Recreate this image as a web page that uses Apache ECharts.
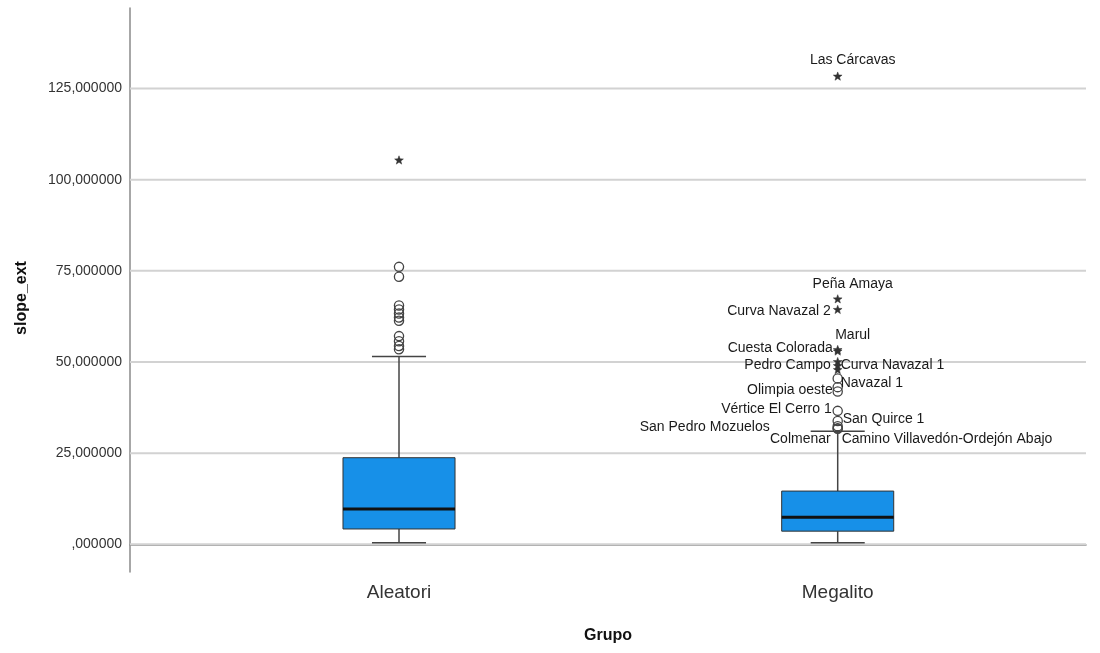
<!DOCTYPE html>
<html>
<head>
<meta charset="utf-8">
<script src="https://cdn.jsdelivr.net/npm/echarts@6/dist/echarts.min.js"></script>
<style>
  html, body { margin: 0; padding: 0; background: #ffffff; }
  #chart { width: 1100px; height: 653px; }
</style>
</head>
<body>
<div id="chart"></div>
<script>
// ---- data ----
const categories = ['Aleatori', 'Megalito'];
const yTicks = [0, 25, 50, 75, 100, 125];

// box summaries: [whisker low, Q1, median, Q3, whisker high]
const aleatoriBox = [0.4, 4.2, 9.7, 23.75, 51.5];
const megalitoBox = [0.4, 3.6, 7.4, 14.6, 31.0];

// Aleatori: outliers (circles) and extremes (stars), unlabeled
const aleatoriOutliers = [53.5, 54.4, 55.7, 57.1, 61.3, 62.2, 63.3, 64.4, 65.5, 73.4, 76.1];
const aleatoriExtremes = [105.3];

// Megalito: labeled outliers (circles)
const megalitoOutlierNames = ['', 'Navazal 1', 'Olimpia oeste', 'Vértice El Cerro 1', 'San Quirce 1',
  'San Pedro Mozuelos', 'Colmenar', 'Camino Villavedón-Ordejón Abajo'];
const megalitoOutlierValues = [45.5, 43.1, 41.9, 36.6, 33.8, 32.4, 31.8, 31.7];

// Megalito: labeled extremes (stars)
const megalitoExtremeNames = ['Las Cárcavas', 'Peña Amaya', 'Curva Navazal 2', 'Cuesta Colorada', 'Marul',
  'Pedro Campo', 'Curva Navazal 1', ''];
const megalitoExtremeValues = [128.3, 67.2, 64.3, 53.3, 52.9, 50.0, 48.9, 47.8];

// ---- styling / layout ----
const X_MIN = 0.3868, X_MAX = 2.566;
const Y_MIN = -7.6, Y_MAX = 147.1;
const BOX_HALF = 0.1277;
const CAP_HALF = 0.0616;
const FONT = '"Liberation Sans", Arial, sans-serif';

// label placement relative to the marker: [dx, dy, align]
const labelPlacement = {
  'Las Cárcavas': [15, -16, 'center'],
  'Peña Amaya': [15, -15, 'center'],
  'Curva Navazal 2': [-7, 1.5, 'right'],
  'Cuesta Colorada': [-5, -2, 'right'],
  'Marul': [15, -16, 'center'],
  'Pedro Campo': [-7, 3, 'right'],
  'Curva Navazal 1': [3, -1, 'left'],
  'Navazal 1': [3, -4, 'left'],
  'Olimpia oeste': [-5, -1, 'right'],
  'Vértice El Cerro 1': [-6, -2, 'right'],
  'San Quirce 1': [5, -2, 'left'],
  'San Pedro Mozuelos': [-68, 1, 'right'],
  'Colmenar': [-7, 11, 'right'],
  'Camino Villavedón-Ordejón Abajo': [4, 10.5, 'left']
};

function starPoints(cx, cy, R, r) {
  const pts = [];
  for (let i = 0; i < 10; i++) {
    const ang = -Math.PI / 2 + i * Math.PI / 5;
    const rad = i % 2 === 0 ? R : r;
    pts.push([cx + rad * Math.cos(ang), cy + rad * Math.sin(ang)]);
  }
  return pts;
}

// build point lists
const circlePoints = [];
const starPointsList = [];
aleatoriOutliers.forEach(v => circlePoints.push({ x: 1, v: v, name: '' }));
aleatoriExtremes.forEach(v => starPointsList.push({ x: 1, v: v, name: '' }));
megalitoOutlierValues.forEach((v, i) => circlePoints.push({ x: 2, v: v, name: megalitoOutlierNames[i] }));
megalitoExtremeValues.forEach((v, i) => starPointsList.push({ x: 2, v: v, name: megalitoExtremeNames[i] }));

function labelElement(name, pt) {
  if (!name) return null;
  const p = labelPlacement[name] || [4, 0, 'left'];
  return {
    type: 'text',
    x: pt[0] + p[0],
    y: pt[1] + p[1],
    style: {
      text: name,
      font: '14px ' + FONT,
      fill: '#1a1a1a',
      align: p[2],
      verticalAlign: 'middle'
    }
  };
}

const chart = echarts.init(document.getElementById('chart'), null, { renderer: 'canvas' });

const option = {
  animation: false,
  backgroundColor: '#ffffff',
  grid: { left: 130, right: 14, top: 8, bottom: 81, containLabel: false },
  xAxis: {
    type: 'value',
    min: X_MIN,
    max: X_MAX,
    axisLine: { show: true, lineStyle: { color: '#8a8a8a', width: 1.5 } },
    axisTick: { show: false },
    splitLine: { show: false },
    axisLabel: {
      customValues: [1, 2],
      formatter: v => categories[Math.round(v) - 1] || '',
      fontFamily: FONT,
      fontSize: 19,
      color: '#333333',
      margin: 11
    }
  },
  yAxis: {
    type: 'value',
    min: Y_MIN,
    max: Y_MAX,
    axisLine: { show: true, lineStyle: { color: '#8a8a8a', width: 1.5 } },
    axisTick: { show: false },
    splitLine: { show: false },
    axisLabel: {
      customValues: yTicks,
      formatter: v => (v === 0 ? '' : String(v)) + ',000000',
      fontFamily: FONT,
      fontSize: 14,
      color: '#333333',
      margin: 8
    }
  },
  graphic: [
    {
      type: 'text',
      x: 22, y: 298,
      rotation: Math.PI / 2,
      style: { text: 'slope_ext', font: 'bold 16px ' + FONT, fill: '#111', align: 'center', verticalAlign: 'middle' }
    },
    {
      type: 'text',
      x: 608, y: 636,
      style: { text: 'Grupo', font: 'bold 16px ' + FONT, fill: '#111', align: 'center', verticalAlign: 'middle' }
    }
  ],
  series: [
    {
      // horizontal reference lines at the tick values
      type: 'custom',
      z: 1,
      silent: true,
      data: yTicks.map(v => [X_MIN, v, X_MAX]),
      encode: { x: [0, 2], y: 1 },
      renderItem: (params, api) => {
        const a = api.coord([api.value(0), api.value(1)]);
        const b = api.coord([api.value(2), api.value(1)]);
        return {
          type: 'line',
          shape: { x1: a[0], y1: a[1], x2: b[0], y2: b[1] },
          style: { stroke: '#d2d2d2', lineWidth: 2 }
        };
      }
    },
    {
      // boxes with whiskers
      type: 'custom',
      z: 3,
      silent: true,
      data: [[1].concat(aleatoriBox), [2].concat(megalitoBox)],
      encode: { x: 0, y: [1, 2, 3, 4, 5] },
      renderItem: (params, api) => {
        const x = api.value(0);
        const lo = api.coord([x, api.value(1)]);
        const q1 = api.coord([x, api.value(2)]);
        const med = api.coord([x, api.value(3)]);
        const q3 = api.coord([x, api.value(4)]);
        const hi = api.coord([x, api.value(5)]);
        const left = api.coord([x - BOX_HALF, 0])[0];
        const right = api.coord([x + BOX_HALF, 0])[0];
        const capL = api.coord([x - CAP_HALF, 0])[0];
        const capR = api.coord([x + CAP_HALF, 0])[0];
        const cx = lo[0];
        const wStyle = { stroke: '#444444', lineWidth: 1.5 };
        return {
          type: 'group',
          children: [
            { type: 'line', shape: { x1: cx, y1: lo[1], x2: cx, y2: q1[1] }, style: wStyle },
            { type: 'line', shape: { x1: cx, y1: q3[1], x2: cx, y2: hi[1] }, style: wStyle },
            { type: 'line', shape: { x1: capL, y1: lo[1], x2: capR, y2: lo[1] }, style: wStyle },
            { type: 'line', shape: { x1: capL, y1: hi[1], x2: capR, y2: hi[1] }, style: wStyle },
            {
              type: 'rect',
              shape: { x: left, y: q3[1], width: right - left, height: q1[1] - q3[1] },
              style: { fill: '#1790e8', stroke: '#333333', lineWidth: 1 }
            },
            { type: 'line', shape: { x1: left, y1: med[1], x2: right, y2: med[1] }, style: { stroke: '#111111', lineWidth: 3 } }
          ]
        };
      }
    },
    {
      // outliers: hollow circles
      type: 'custom',
      z: 4,
      silent: true,
      data: circlePoints.map(p => [p.x, p.v]),
      encode: { x: 0, y: 1 },
      renderItem: (params, api) => {
        const pt = api.coord([api.value(0), api.value(1)]);
        const children = [{
          type: 'circle',
          shape: { cx: pt[0], cy: pt[1], r: 4.6 },
          style: { fill: 'none', stroke: '#444444', lineWidth: 1.3 }
        }];
        const lab = labelElement(circlePoints[params.dataIndex].name, pt);
        if (lab) children.push(lab);
        return { type: 'group', children: children };
      }
    },
    {
      // extremes: stars
      type: 'custom',
      z: 4,
      silent: true,
      data: starPointsList.map(p => [p.x, p.v]),
      encode: { x: 0, y: 1 },
      renderItem: (params, api) => {
        const pt = api.coord([api.value(0), api.value(1)]);
        const children = [{
          type: 'polygon',
          shape: { points: starPoints(pt[0], pt[1], 4.6, 1.9) },
          style: { fill: '#333333', stroke: '#333333', lineWidth: 0.5 }
        }];
        const lab = labelElement(starPointsList[params.dataIndex].name, pt);
        if (lab) children.push(lab);
        return { type: 'group', children: children };
      }
    }
  ]
};

chart.setOption(option);
</script>
</body>
</html>
